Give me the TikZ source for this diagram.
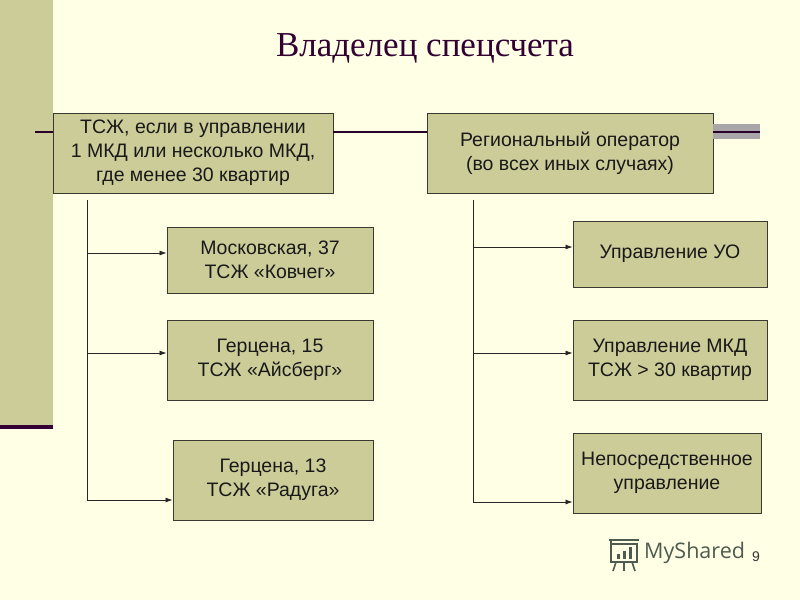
\documentclass[tikz,border=0pt]{standalone}
\usepackage{fontspec}
\setmainfont{Liberation Sans}
\newfontfamily\titlefont{Liberation Serif}
\newfontfamily\logofont{Open Sans}
\usetikzlibrary{arrows.meta}
\definecolor{bgc}{HTML}{FFFFE5}
\definecolor{boxc}{HTML}{CCCC99}
\definecolor{edgec}{HTML}{3A3A30}
\definecolor{purp}{HTML}{330033}
\definecolor{bandc}{HTML}{A8A6A8}
\definecolor{logoc}{HTML}{4F5B4F}
\tikzset{
  box/.style={draw=edgec, line width=0.9pt, fill=boxc, align=center, inner sep=1pt,
    font=\fontsize{19.5}{24}\selectfont, text=black!90},
  link/.style={draw=black!85, line width=0.8pt},
  arr/.style={link, -{Latex[length=7pt,width=5pt]}},
  topline/.style={draw=purp!80!black, line width=1.6pt}
}
\begin{document}
\begin{tikzpicture}[x=1pt,y=-1pt]
\useasboundingbox (0,0) rectangle (800,600);
\fill[bgc] (0,0) rectangle (800,600);
% left bar
\fill[boxc] (0,0) rectangle (53,425);
\fill[purp] (0,425) rectangle (53,429);
% title
\node[font=\titlefont\fontsize{35}{40}\selectfont, text=purp] (title) at (425,48) {Владелец спецсчета};
% top boxes
\node[box, minimum width=280pt, minimum height=80pt] (A) at (193,153)
  {ТСЖ, если в управлении\\1 МКД или несколько МКД,\\где менее 30 квартир};
\node[box, minimum width=286pt, minimum height=80pt] (B) at (570,153)
  {Региональный оператор\\ (во всех иных случаях)};
% grey band on the right
\fill[bandc] (B.east |- 0,124) rectangle (760,139);
\coordinate (bandend) at (760,132);
\coordinate (cy) at (0,132);
\coordinate (lt) at (35,132);
\draw[topline] (lt) -- (lt -| A.west);
\draw[topline] (A.east |- cy) -- (B.west |- cy);
\draw[topline] (B.east |- cy) -- (bandend);
% left column
\node[box, minimum width=206pt, minimum height=66pt] (L1) at (270,260) {Московская, 37\\ТСЖ «Ковчег»};
\node[box, minimum width=206pt, minimum height=80pt] (L2) at (270,360) {Герцена, 15\\ТСЖ «Айсберг»};
\node[box, minimum width=200pt, minimum height=80pt] (L3) at (273,480) {Герцена, 13\\ТСЖ «Радуга»};
% right column
\node[box, minimum width=194pt, minimum height=66pt] (R1) at (670,254) {Управление УО};
\node[box, minimum width=194pt, minimum height=80pt] (R2) at (670,360) {Управление МКД\\ТСЖ > 30 квартир};
\node[box, minimum width=188pt, minimum height=80pt, text width=186pt] (R3) at (667,473) {Непосредственное\\управление};
% left trunk
\coordinate (lA) at (87,200);
\coordinate (l1) at (87,253);
\coordinate (l2) at (87,353);
\coordinate (l3) at (87,500);
\draw[link] (lA) -- (l3);
\draw[arr] (l1) -- (l1 -| L1.west);
\draw[arr] (l2) -- (l2 -| L2.west);
\draw[arr] (l3) -- (l3 -| L3.west);
% right trunk
\coordinate (rA) at (473,200);
\coordinate (r1) at (473,247);
\coordinate (r2) at (473,353);
\coordinate (r3) at (473,502);
\draw[link] (rA) -- (r3);
\draw[arr] (r1) -- (r1 -| R1.west);
\draw[arr] (r2) -- (r2 -| R2.west);
\draw[arr] (r3) -- (r3 -| R3.west);
% watermark logo
\begin{scope}[logoc, line width=1.6pt]
  \draw (611,544) rectangle (637,562);
  \draw (609,540) -- (639,540);
  \draw (611,540) -- (611,552);
  \fill (617,554) rectangle (620,559);
  \fill (623,551) rectangle (626,559);
  \fill (629,547) rectangle (632,559);
  \draw (616,562) -- (613,571);
  \draw (624,562) -- (624,571);
  \draw (632,562) -- (635,571);
\end{scope}
\node[font=\logofont\fontsize{21.5}{26}\selectfont, text=logoc, anchor=west, inner sep=0pt] (logo) at (644,553) {MyShared};
\node[font=\fontsize{14}{16}\selectfont, text=black!80, inner sep=0pt, anchor=west] (page) at (752,557) {9};
\end{tikzpicture}
\end{document}
